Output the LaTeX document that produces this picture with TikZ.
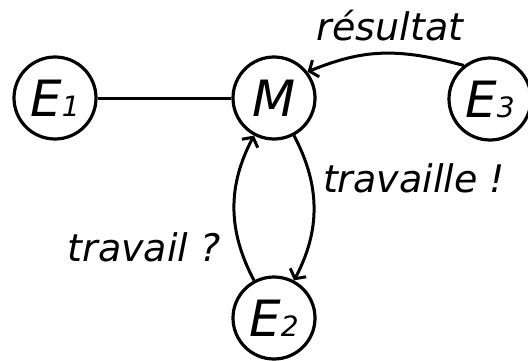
\documentclass[tikz,border=0pt]{standalone}
\usepackage{fontspec}
\setmainfont{DejaVu Sans}
\usetikzlibrary{arrows.meta}
% smaller digit written after a state letter
\newcommand\stnum[1]{{\fontsize{28}{28}\selectfont #1}}
\begin{document}
\begin{tikzpicture}[x=1pt,y=1pt,
  state/.style={circle,draw,line width=3.2pt,minimum size=82pt,inner sep=0pt,
    font=\fontsize{50}{50}\selectfont\itshape},
  link/.style={line width=3pt},
  arr/.style={link,-{Straight Barb[length=7pt,width=18pt]}},
  lbl/.style={font=\fontsize{38}{38}\selectfont\itshape,inner sep=0pt}]
\useasboundingbox (0,0) rectangle (528,360);
% states
\node[state] (E1) at (55,262) {E\stnum{1}};
\node[state] (M)  at (274,262) {M};
\node[state] (E3) at (490,261) {E\stnum{3}};
\node[state] (E2) at (274,42) {E\stnum{2}};
% connectors
\draw[link] (E1) -- (M);
\draw[arr] (E3.128) .. controls +(165:70) and +(22:60) .. (M.38);
\draw[arr] (M) to[bend left=28] (E2);
\draw[arr] (E2) to[bend left=28] (M);
% labels
\node[lbl] (res) at (390,334) {résultat};
\node[lbl] (tv)  at (414,182) {travaille !};
\node[lbl] (tq)  at (144,113) {travail ?};
\end{tikzpicture}
\end{document}
